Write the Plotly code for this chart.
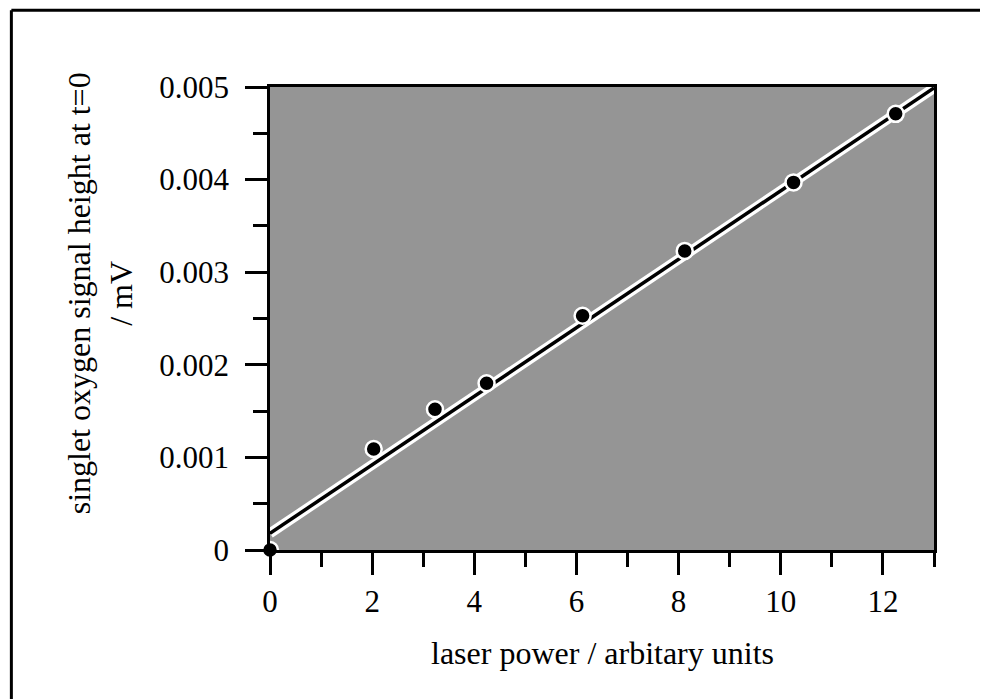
import plotly.graph_objects as go

# data
laser_power = [0.0, 2.03, 3.23, 4.24, 6.12, 8.12, 10.25, 12.25]
signal_height = [0.0, 0.00109, 0.00152, 0.00180, 0.00253, 0.00323, 0.00397, 0.00471]
fit_x = [0.0, 13.0]
fit_y = [0.00018, 0.00499]

x_ticks = [0, 2, 4, 6, 8, 10, 12]
y_ticks = [0, 0.001, 0.002, 0.003, 0.004, 0.005]
y_tick_text = ["0", "0.001", "0.002", "0.003", "0.004", "0.005"]

FONT = "Liberation Serif"

fig = go.Figure()
# white halo under fit line
fig.add_trace(go.Scatter(x=fit_x, y=fit_y, mode="lines",
                         line=dict(color="white", width=10), hoverinfo="skip"))
fig.add_trace(go.Scatter(x=fit_x, y=fit_y, mode="lines",
                         line=dict(color="black", width=3.5)))
fig.add_trace(go.Scatter(x=laser_power, y=signal_height, mode="markers",
                         marker=dict(color="black", size=16,
                                     line=dict(color="white", width=2.5)),
                         cliponaxis=False))

axis_common = dict(
    showline=True, linecolor="black", linewidth=2.5, mirror=True,
    ticks="outside", ticklen=22, tickwidth=2.5, tickcolor="black",
    showgrid=False, zeroline=False,
    tickfont=dict(family=FONT, size=31, color="black"),
)

fig.update_xaxes(range=[0, 13], tickvals=x_ticks, ticklabelstandoff=0,
                 minor=dict(ticks="outside", ticklen=14, tickwidth=2.5,
                            tickcolor="black", dtick=1, tick0=1),
                 **axis_common)
fig.update_yaxes(range=[0, 0.005], tickvals=y_ticks, ticktext=y_tick_text,
                 ticklabelstandoff=10,
                 minor=dict(ticks="outside", ticklen=14, tickwidth=2.5,
                            tickcolor="black", dtick=0.0005, tick0=0.0005),
                 **axis_common)

fig.add_annotation(text="laser power / arbitary units", xref="paper", yref="paper",
                   x=0.5, y=-0.2225, xanchor="center", yanchor="middle",
                   showarrow=False, font=dict(family=FONT, size=32, color="black"))
fig.add_annotation(text="singlet oxygen signal height at t=0<br>/ mV",
                   xref="paper", yref="paper", x=-0.2556, y=0.555,
                   xanchor="center", yanchor="middle", textangle=-90,
                   showarrow=False, font=dict(family=FONT, size=32, color="black"))

# outer frame of the scanned figure (only left and top edges are visible)
fig.add_shape(type="line", xref="paper", yref="paper",
              x0=-0.3895, y0=1.166, x1=-0.3895, y1=-0.34,
              line=dict(color="black", width=3), layer="below")
fig.add_shape(type="line", xref="paper", yref="paper",
              x0=-0.3895, y0=1.166, x1=1.075, y1=1.166,
              line=dict(color="black", width=3), layer="below")

fig.update_layout(
    width=980, height=691,
    margin=dict(l=262, r=54, t=79, b=149),
    paper_bgcolor="white", plot_bgcolor="#959595",
    showlegend=False,
)

fig.write_html("out.html", config={"displayModeBar": False})
